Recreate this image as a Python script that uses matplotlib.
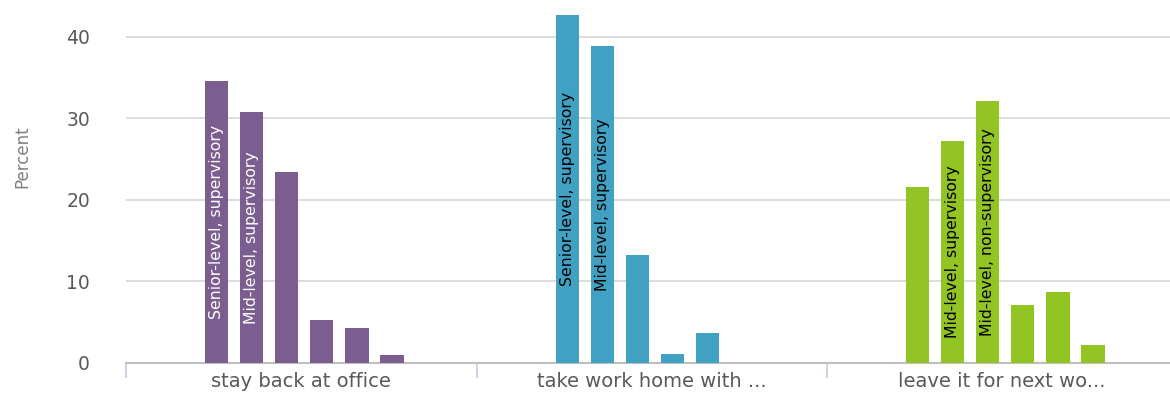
import matplotlib
matplotlib.use("Agg")
import matplotlib.pyplot as plt
import numpy as np

# Categories on the x axis
categories = ["stay back at office", "take work home with ...", "leave it for next wo..."]

# Six bars per category (percent)
stay_back = [34.5, 30.7, 23.4, 5.2, 4.2, 0.9]
take_home = [42.6, 38.8, 13.2, 1.1, 3.6, 0.0]
leave_it = [21.6, 27.2, 32.1, 7.1, 8.7, 2.2]

# In-bar labels (empty string = no label)
stay_labels = ["Senior-level, supervisory", "Mid-level, supervisory", "", "", "", ""]
take_labels = ["Senior-level, supervisory", "Mid-level, supervisory", "", "", "", ""]
leave_labels = ["", "Mid-level, supervisory", "Mid-level, non-supervisory", "", "", ""]

yticks = [0, 10, 20, 30, 40]

group_values = [stay_back, take_home, leave_it]
group_labels = [stay_labels, take_labels, leave_labels]
group_colors = ["#7b5e8f", "#41a1c3", "#92c424"]
label_colors = ["white", "black", "black"]

W, H = 1170, 396
fig = plt.figure(figsize=(W / 100, H / 100), dpi=100)
ax = fig.add_axes([126 / W, 33.5 / H, (1177.5 - 126) / W, 362.5 / H])

step = 0.1
width = 0.066
shift = 0.009
for gi, (vals, labs) in enumerate(zip(group_values, group_labels)):
    n = len(vals)
    xs = gi + (np.arange(n) - (n - 1) / 2) * step + shift
    ax.bar(xs, vals, width=width, color=group_colors[gi], zorder=3)
    for x, v, lab in zip(xs, vals, labs):
        if lab:
            ax.text(x, v / 2, lab, rotation=90, ha="center", va="center",
                    fontsize=11.3, color=label_colors[gi], zorder=4,
                    family="DejaVu Sans")

ax.set_xlim(-0.5, 2.5)
ax.set_ylim(0, 44.5)

ax.set_yticks(yticks)
ax.set_yticklabels([str(t) for t in yticks])
ax.tick_params(axis="y", length=0, pad=26, labelsize=13.5, labelcolor="#595959")
ax.yaxis.grid(True, color="#d9d9d9", linewidth=1.3, zorder=0)
ax.set_axisbelow(True)

ax.set_xticks(range(len(categories)))
ax.set_xticklabels(categories)
ax.set_xticks([-0.5, 0.5, 1.5], minor=True)
ax.tick_params(axis="x", which="major", length=0, pad=7, labelsize=14,
               labelcolor="#595959")
ax.tick_params(axis="x", which="minor", length=11, width=1.5, color="#cdd5e3")

for side in ["top", "right", "left"]:
    ax.spines[side].set_visible(False)
ax.spines["bottom"].set_color("#bfbfbf")
ax.spines["bottom"].set_linewidth(1.5)

fig.text(22 / W, 1 - 157 / H, "Percent", rotation=90, ha="center", va="center",
         fontsize=12, color="#7f7f7f")

fig.savefig("out.png", dpi=100)
